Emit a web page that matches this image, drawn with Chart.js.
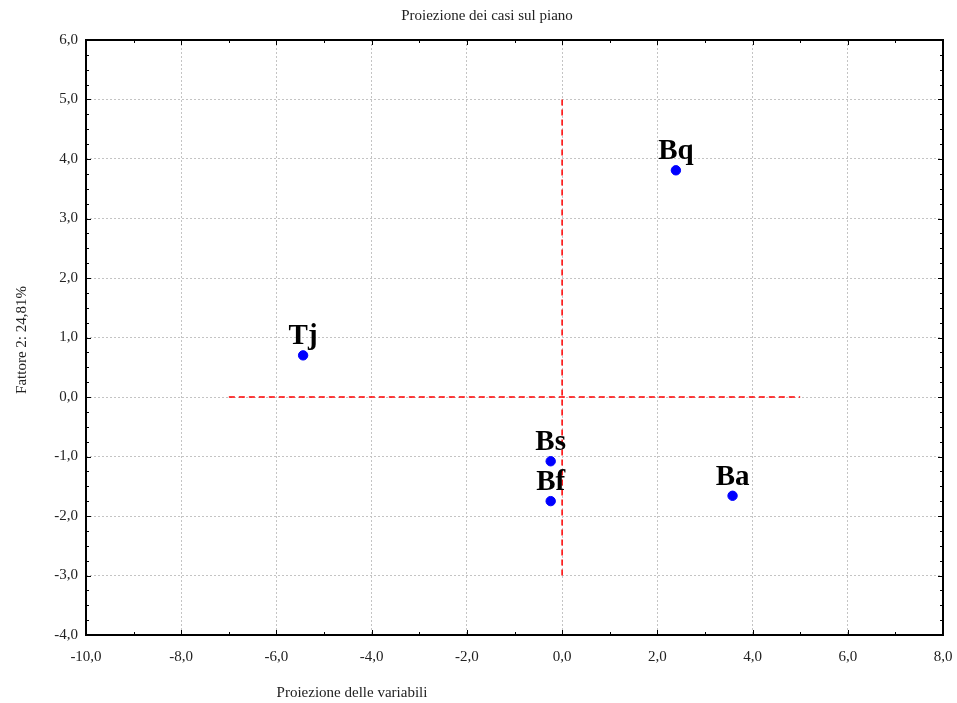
<!DOCTYPE html>
<html>
<head>
<meta charset="utf-8">
<script src="https://cdn.jsdelivr.net/npm/chart.js@4/dist/chart.umd.min.js"></script>
<style>
  html, body { margin: 0; padding: 0; background: #fff; }
  #wrap { width: 957px; height: 703px; }
</style>
</head>
<body>
<div id="wrap"><canvas id="c" width="957" height="703"></canvas></div>
<script>
// ---- data ----
const categories = ['Tj', 'Bq', 'Bs', 'Bf', 'Ba'];
const xValues = [-5.44, 2.39, -0.24, -0.24, 3.58];
const yValues = [0.70, 3.81, -1.08, -1.75, -1.66];
const hLineX = [-7, 5];
const hLineY = [0, 0];
const vLineX = [0, 0];
const vLineY = [-3, 5];
const xTickValues = [-10, -8, -6, -4, -2, 0, 2, 4, 6, 8];
const yTickValues = [-4, -3, -2, -1, 0, 1, 2, 3, 4, 5, 6];
const chartTitle = 'Proiezione dei casi sul piano';
const xTitle = 'Proiezione delle variabili';
const yTitle = 'Fattore 2: 24,81%';

const SERIF = '"Liberation Serif", "DejaVu Serif", serif';
const fmt = v => Number(v).toFixed(1).replace('.', ',');

const framePlugin = {
  id: 'frame',
  afterDraw(chart) {
    const { ctx, chartArea: a, scales } = chart;
    const xs = scales.x, ys = scales.y;
    ctx.save();
    ctx.strokeStyle = '#000';
    ctx.lineWidth = 1;
    ctx.beginPath();
    for (let v = -10; v <= 8.001; v += 1) {
      const px = Math.round(xs.getPixelForValue(v)) + 0.5;
      const len = (Math.round(v) % 2 === 0) ? 5 : 3;
      ctx.moveTo(px, a.bottom); ctx.lineTo(px, a.bottom - len);
      ctx.moveTo(px, a.top); ctx.lineTo(px, a.top + len);
    }
    for (let i = 0; i <= 40; i++) {
      const v = -4 + i * 0.25;
      const py = Math.round(ys.getPixelForValue(v)) + 0.5;
      const len = (i % 4 === 0) ? 5 : 3;
      ctx.moveTo(a.left, py); ctx.lineTo(a.left + len, py);
      ctx.moveTo(a.right, py); ctx.lineTo(a.right - len, py);
    }
    ctx.stroke();
    ctx.lineWidth = 2;
    ctx.strokeRect(a.left, a.top, a.right - a.left, a.bottom - a.top);

    const meta = chart.getDatasetMeta(0);
    ctx.fillStyle = '#000';
    ctx.font = 'bold 29px ' + SERIF;
    ctx.textAlign = 'center';
    ctx.textBaseline = 'alphabetic';
    meta.data.forEach((el, i) => {
      ctx.fillText(categories[i], el.x, el.y - 11);
    });

    ctx.fillStyle = '#222';
    ctx.font = '15px ' + SERIF;
    ctx.textAlign = 'center';
    ctx.textBaseline = 'middle';
    ctx.fillText(chartTitle, 487, 16);
    ctx.fillText(xTitle, 352, 693);
    ctx.translate(22, 340);
    ctx.rotate(-Math.PI / 2);
    ctx.fillText(yTitle, 0, 0);
    ctx.restore();
  }
};

new Chart(document.getElementById('c'), {
  type: 'scatter',
  data: {
    datasets: [
      {
        label: 'casi',
        data: categories.map((c, i) => ({ x: xValues[i], y: yValues[i] })),
        backgroundColor: '#0000ff',
        borderColor: '#0000ff',
        pointRadius: 4.7,
        pointHoverRadius: 4.7,
        order: 0
      },
      {
        type: 'line',
        label: 'h',
        data: hLineX.map((x, i) => ({ x, y: hLineY[i] })),
        borderColor: '#ff0000',
        borderWidth: 1.5,
        borderDash: [6, 4],
        pointRadius: 0,
        fill: false,
        order: 1
      },
      {
        type: 'line',
        label: 'v',
        data: vLineX.map((x, i) => ({ x, y: vLineY[i] })),
        borderColor: '#ff0000',
        borderWidth: 1.5,
        borderDash: [6, 4],
        pointRadius: 0,
        fill: false,
        order: 1
      }
    ]
  },
  options: {
    responsive: false,
    animation: false,
    layout: { padding: { top: 40, right: 14, left: 0, bottom: 0 } },
    plugins: { legend: { display: false }, tooltip: { enabled: false }, title: { display: false } },
    scales: {
      x: {
        type: 'linear',
        min: -10, max: 8,
        afterFit: s => { s.height = 68; s.paddingLeft = 0; s.paddingRight = 0; },
        afterBuildTicks: s => { s.ticks = xTickValues.map(v => ({ value: v })); },
        border: { display: false, dash: [2, 2] },
        grid: { color: '#c4c4c4', lineWidth: 1, drawTicks: false },
        ticks: { callback: v => fmt(v), color: '#222', font: { family: SERIF, size: 15 }, padding: 13, maxRotation: 0, autoSkip: false }
      },
      y: {
        type: 'linear',
        min: -4, max: 6,
        afterFit: s => { s.width = 86; s.paddingTop = 0; s.paddingBottom = 0; },
        afterBuildTicks: s => { s.ticks = yTickValues.map(v => ({ value: v })); },
        border: { display: false, dash: [2, 2] },
        grid: { color: '#c4c4c4', lineWidth: 1, drawTicks: false },
        ticks: { callback: v => fmt(v), color: '#222', font: { family: SERIF, size: 15 }, padding: 8, autoSkip: false }
      }
    }
  },
  plugins: [framePlugin]
});
</script>
</body>
</html>
